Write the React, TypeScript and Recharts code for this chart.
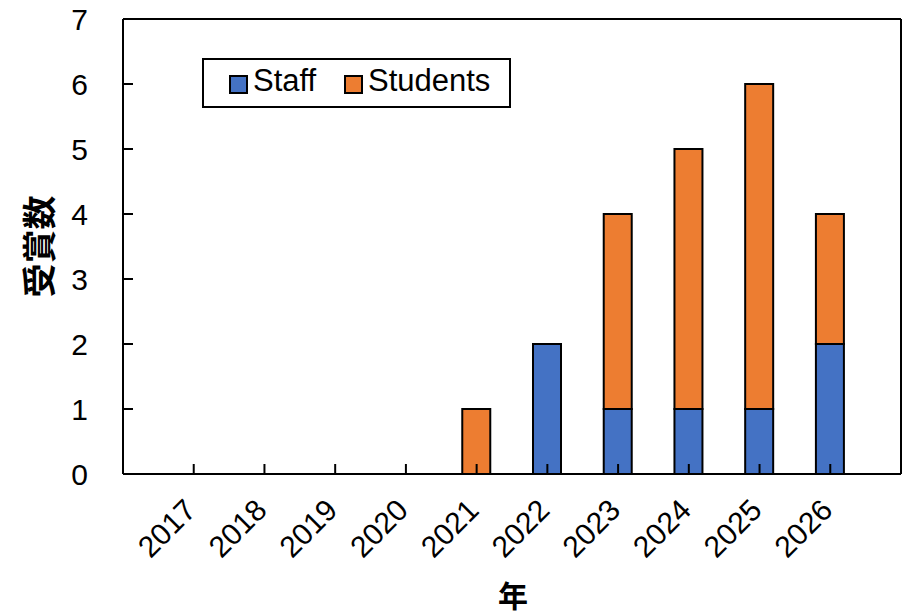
import React from "react";
import { BarChart, Bar, XAxis, YAxis, ReferenceLine, Label } from "recharts";

const years = [2017, 2018, 2019, 2020, 2021, 2022, 2023, 2024, 2025, 2026];
const staff = [0, 0, 0, 0, 0, 2, 1, 1, 1, 2];
const students = [0, 0, 0, 0, 1, 0, 3, 4, 5, 2];
const seriesNames = ["Staff", "Students"];
const seriesColors = ["#4472C4", "#ED7D31"];
const yTicks = [0, 1, 2, 3, 4, 5, 6, 7];
const xLabel = "年";
const yLabel = "受賞数";

const data = years.map((y, i) => ({
  year: y,
  staff: staff[i] === 0 ? null : staff[i],
  students: students[i] === 0 ? null : students[i],
}));

const LATIN = "'Liberation Sans', Arial, sans-serif";
const CJK = "'Noto Sans CJK JP', 'Noto Sans CJK SC', sans-serif";

const YTick = (props: any) => {
  const { x, y, payload } = props;
  const showLine = payload.value !== 0 && payload.value !== 7;
  return (
    <g>
      {showLine && <line x1={x} x2={x + 10} y1={y} y2={y} stroke="#000" strokeWidth={2} />}
      <text x={x - 35} y={y} dy={11} textAnchor="end" fontSize={30} fontFamily={LATIN} fill="#000">
        {payload.value}
      </text>
    </g>
  );
};

const XTick = (props: any) => {
  const { x, y, payload } = props;
  const px = x + 4;
  const py = y + 38;
  return (
    <g>
      <line x1={x} x2={x} y1={y} y2={y - 10} stroke="#000" strokeWidth={2} />
      <text
        x={px}
        y={py}
        textAnchor="end"
        fontSize={30}
        fontFamily={LATIN}
        fill="#000"
        transform={`rotate(-45 ${px} ${py})`}
      >
        {payload.value}
      </text>
    </g>
  );
};

const YLabelContent = (props: any) => {
  const vb = props.viewBox;
  const cx = vb.x + 37;
  const cy = vb.y + vb.height / 2;
  return (
    <text
      x={cx}
      y={cy}
      textAnchor="middle"
      dominantBaseline="central"
      fontSize={34}
      fontWeight="bold"
      fontFamily={CJK}
      fill="#000"
      transform={`rotate(-90 ${cx} ${cy})`}
    >
      {yLabel}
    </text>
  );
};

const XLabelContent = (props: any) => {
  const vb = props.viewBox;
  const cx = vb.x + vb.width / 2 + 1;
  return (
    <text
      x={cx}
      y={607}
      textAnchor="middle"
      fontSize={30}
      fontWeight="bold"
      fontFamily={CJK}
      fill="#000"
    >
      {xLabel}
    </text>
  );
};

export default function App() {
  return (
    <div style={{ position: "absolute", left: 0, top: 0, width: 910, height: 616, background: "#fff" }}>
      <BarChart
        width={910}
        height={616}
        data={data}
        margin={{ top: 19, right: 9, left: 0, bottom: 0 }}
      >
        <XAxis
          dataKey="year"
          type="number"
          domain={[2016, 2027]}
          ticks={years}
          interval={0}
          height={142}
          tickSize={0}
          tickMargin={0}
          tickLine={false}
          axisLine={{ stroke: "#000", strokeWidth: 2 }}
          tick={<XTick />}
          allowDecimals={false}
        >
          <Label content={<XLabelContent />} />
        </XAxis>
        <YAxis
          domain={[0, 7]}
          ticks={yTicks}
          width={123}
          tickSize={0}
          tickMargin={0}
          tickLine={false}
          axisLine={{ stroke: "#000", strokeWidth: 2 }}
          tick={<YTick />}
          interval={0}
        >
          <Label content={<YLabelContent />} />
        </YAxis>
        <ReferenceLine y={7} stroke="#000" strokeWidth={2} />
        <ReferenceLine x={2027} stroke="#000" strokeWidth={2} />
        <Bar
          dataKey="staff"
          stackId="a"
          fill={seriesColors[0]}
          stroke="#000"
          strokeWidth={2}
          barSize={28}
          isAnimationActive={false}
        />
        <Bar
          dataKey="students"
          stackId="a"
          fill={seriesColors[1]}
          stroke="#000"
          strokeWidth={2}
          barSize={28}
          isAnimationActive={false}
        />
      </BarChart>
      <div
        style={{
          position: "absolute",
          left: 202,
          top: 58,
          width: 305,
          height: 46,
          border: "2px solid #000",
          background: "#fff",
          fontFamily: LATIN,
          fontSize: 31,
          color: "#000",
        }}
      >
        {seriesNames.map((name, i) => {
          const swatchLeft = i === 0 ? 25 : 140;
          const textLeft = i === 0 ? 49 : 164;
          return (
            <React.Fragment key={name}>
              <div
                style={{
                  position: "absolute",
                  left: swatchLeft,
                  top: 15,
                  width: 15,
                  height: 15,
                  background: seriesColors[i],
                  border: "2px solid #000",
                }}
              />
              <div
                style={{
                  position: "absolute",
                  left: textLeft,
                  top: 4,
                  lineHeight: "34px",
                  whiteSpace: "nowrap",
                }}
              >
                {name}
              </div>
            </React.Fragment>
          );
        })}
      </div>
    </div>
  );
}
